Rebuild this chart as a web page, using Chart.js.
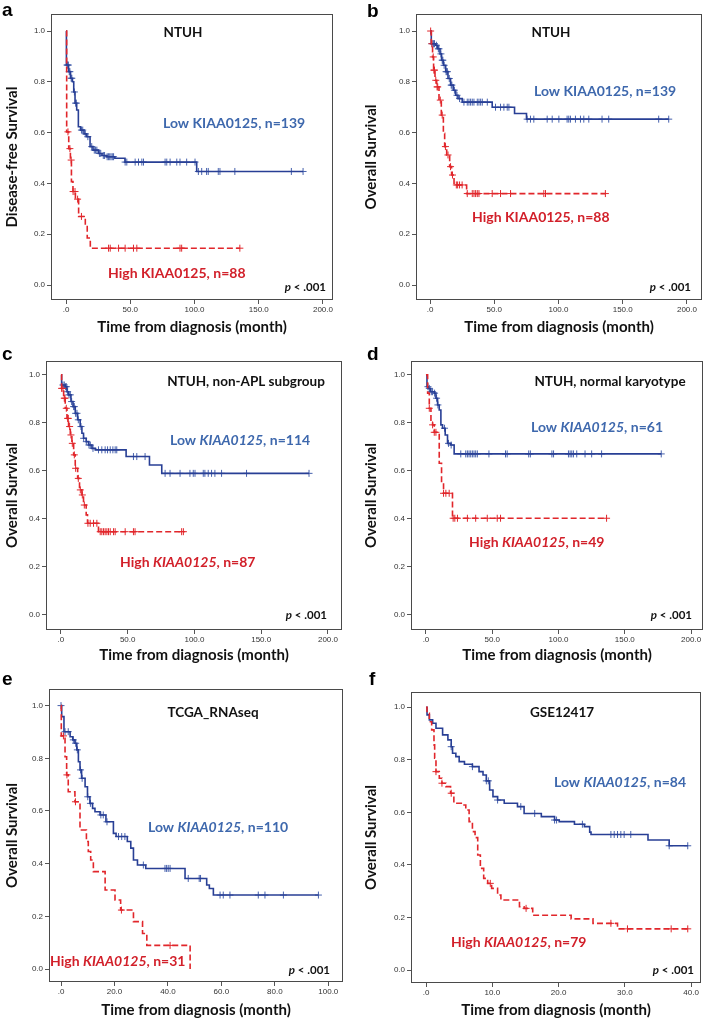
<!DOCTYPE html>
<html>
<head>
<meta charset="utf-8">
<script src="https://cdn.jsdelivr.net/npm/chart.js@4.4.1/dist/chart.umd.min.js"></script>
<style>
  html, body { margin: 0; padding: 0; background: #fff; }
  #wrap { position: relative; width: 708px; height: 1019px; overflow: hidden; }
  canvas { position: absolute; }
  .letter { position: absolute; font: bold 19px "Liberation Sans", Arial, sans-serif; color: #000; line-height: 1; }
</style>
</head>
<body>
<div id="wrap"></div>
<script>
// ---- data: step curves (time, survival) and censor times ----
var yTicks = [0, 0.2, 0.4, 0.6, 0.8, 1.0];
var xTicks200 = [0, 50, 100, 150, 200];
var xTicks100 = [0, 20, 40, 60, 80, 100];
var xTicks40 = [0, 10, 20, 30, 40];

// a - NTUH DFS
var aLowT = [0, 0.3, 2, 3.5, 5, 6, 7, 8.3, 9.6, 11.3, 14, 16.1, 18.7, 21, 25.2, 28, 31.7, 38, 45.9, 101.7, 184.5];
var aLowS = [1, 0.866, 0.84, 0.814, 0.80, 0.76, 0.716, 0.689, 0.623, 0.61, 0.595, 0.584, 0.545, 0.531, 0.518, 0.51, 0.505, 0.499, 0.484, 0.447, 0.447];
var aLowC = [0.8, 1.2, 1.8, 2.5, 3, 4, 4.5, 6.5, 7.5, 8, 12, 13, 15, 17, 20, 22, 23, 24, 26, 27, 29, 30, 32, 33, 34, 35, 36, 37, 46, 47.3, 53.8, 56.4, 59, 60.3, 77.1, 78.4, 81, 86.2, 88.7, 93.9, 100.4, 103, 105.6, 109.4, 110.7, 118.5, 119.8, 131.4, 175.4, 184.5];
var aHighT = [0, 0.5, 2.1, 3.4, 4.2, 5.4, 7.3, 9.8, 15, 16.5, 18.9, 135.3];
var aHighS = [1, 0.603, 0.537, 0.492, 0.407, 0.368, 0.338, 0.27, 0.23, 0.185, 0.145, 0.145];
var aHighC = [1.5, 3, 4, 5.5, 7, 9, 12, 33.1, 34.4, 40.9, 46, 52.5, 55.1, 88.7, 90, 135.3];

// b - NTUH OS
var bLowT = [0, 1, 4.4, 6, 7.8, 9, 10.4, 12.2, 14, 16, 18.1, 20, 21.8, 25.1, 48.4, 65.8, 75.1, 185.8];
var bLowS = [1, 0.95, 0.944, 0.93, 0.91, 0.885, 0.865, 0.84, 0.813, 0.787, 0.767, 0.747, 0.734, 0.72, 0.70, 0.675, 0.653, 0.653];
var bLowC = [1.5, 2.5, 3, 3.5, 5, 6.5, 7, 8.5, 9.5, 10, 11, 12.5, 13, 13.5, 15, 16.5, 17, 19, 21, 23, 26.4, 29, 30.3, 31.6, 32.9, 34.2, 36.8, 38.1, 39.4, 40.7, 44.6, 51, 54.9, 57.5, 60.1, 61.4, 75.6, 78.2, 80.8, 91.2, 95.1, 100.3, 106.7, 108, 109.3, 113.2, 117.1, 119.7, 123.6, 133.9, 139.1, 178, 185.8];
var bHighT = [0, 1, 2, 2.8, 3.9, 5.2, 7, 8.8, 10.4, 11.4, 13, 15.3, 16.8, 18.7, 19.5, 28.5, 136.5];
var bHighS = [1, 0.95, 0.898, 0.846, 0.806, 0.78, 0.728, 0.669, 0.597, 0.545, 0.512, 0.466, 0.433, 0.401, 0.394, 0.36, 0.36];
var bHighC = [0.5, 1.5, 2.5, 3, 3.5, 4.5, 5.5, 6, 8, 9.5, 12, 14, 16, 17.5, 20.5, 21.5, 23, 25, 29, 32.9, 34.2, 35.5, 36.8, 38.1, 48.4, 54.9, 62.7, 88.6, 89.9, 136.5];

// c - non-APL subgroup
var cLowT = [0, 0.5, 3.2, 4.5, 5.7, 7.5, 9, 10.7, 12.5, 14.4, 15.7, 16.9, 18.9, 20.7, 23.2, 25.7, 48.8, 66.3, 75.5, 185.8];
var cLowS = [1, 0.958, 0.951, 0.93, 0.917, 0.889, 0.868, 0.84, 0.813, 0.785, 0.757, 0.736, 0.722, 0.708, 0.694, 0.688, 0.66, 0.625, 0.59, 0.59];
var cLowC = [1.5, 2.5, 3.5, 4, 5, 6, 7, 8, 9.5, 10, 11, 12, 13, 15, 17, 19, 21, 22, 24, 28.1, 30.6, 33.1, 34.9, 36.9, 38.9, 40.6, 41.8, 54.3, 56.8, 63, 78, 81.7, 89.2, 96.6, 99.1, 100.4, 106.6, 107.8, 110.3, 112.8, 115.3, 120.3, 139, 185.8];
var cHighT = [0, 0.5, 2, 3.2, 4.5, 5.7, 7, 8.2, 9.5, 10.7, 12.5, 13.9, 15.7, 16.9, 18.9, 19.9, 28.1, 92.4];
var cHighS = [1, 0.944, 0.903, 0.861, 0.819, 0.785, 0.75, 0.715, 0.667, 0.611, 0.569, 0.521, 0.5, 0.458, 0.417, 0.382, 0.347, 0.347];
var cHighC = [0.5, 1.5, 2.5, 3, 4, 5, 5.5, 6.5, 7.5, 8.5, 10, 11, 13, 14.5, 16, 17.5, 20.2, 21.9, 24.4, 26.9, 29.4, 30.6, 31.9, 33.1, 34.4, 35.6, 36.9, 39.4, 40.6, 48.1, 54.3, 55.5, 90.4, 91.7];

// d - normal karyotype
var dLowT = [0, 0.75, 1.75, 3.25, 6.25, 7.5, 8.75, 10, 11.25, 12.5, 14.5, 16.25, 18.75, 21.25, 177.5];
var dLowS = [1, 0.951, 0.944, 0.93, 0.924, 0.903, 0.875, 0.854, 0.792, 0.778, 0.75, 0.715, 0.708, 0.671, 0.671];
var dLowC = [1.5, 2.5, 4, 5, 6.5, 8, 9, 14, 17, 19, 26.25, 30, 31.25, 32.5, 33.75, 35, 36.25, 37.5, 38.75, 47.5, 60, 61.25, 77.5, 78.75, 95, 96.25, 107.5, 108.75, 110, 111.25, 113.75, 120, 125, 132.5, 177.5];
var dHighT = [0, 1.25, 2.5, 3.75, 5, 6.25, 10, 11.75, 13.25, 20, 136.25];
var dHighS = [1, 0.924, 0.861, 0.806, 0.792, 0.761, 0.632, 0.549, 0.507, 0.403, 0.403];
var dHighC = [2.5, 5, 6.25, 7.5, 13.25, 15, 17.5, 20.5, 21.75, 23.75, 31.25, 37.5, 46.25, 53.75, 56.25, 136.25];

// e - TCGA_RNAseq
var eLowT = [0, 0.25, 1.1, 3.4, 4.4, 5.2, 5.9, 6.5, 7.1, 7.7, 9, 9.9, 10.8, 11.8, 12.7, 14.6, 16.8, 19.6, 20.6, 24.8, 26.1, 27.1, 28.6, 31.7, 46.4, 54.5, 55.5, 57, 96.3];
var eLowS = [1, 0.958, 0.901, 0.882, 0.87, 0.857, 0.832, 0.787, 0.756, 0.724, 0.692, 0.654, 0.629, 0.61, 0.597, 0.585, 0.559, 0.515, 0.503, 0.484, 0.459, 0.414, 0.395, 0.382, 0.344, 0.319, 0.306, 0.281, 0.281];
var eLowC = [0, 1.5, 2.7, 4.6, 5.5, 6.1, 7.3, 7.9, 10, 11, 14.9, 15.8, 17.2, 21.5, 22.7, 23.9, 30.8, 38.9, 39.5, 40.1, 40.8, 47.6, 51.7, 52.2, 59.5, 60.7, 63.2, 73.8, 76.3, 83.2, 96.3];
var eHighT = [0, 0.1, 1.5, 2.1, 2.7, 5.2, 7.1, 9.5, 10.2, 11.1, 12.1, 16.5, 20.2, 22.3, 27.1, 30.5, 32.1, 48.3];
var eHighS = [1, 0.885, 0.806, 0.737, 0.673, 0.635, 0.528, 0.484, 0.446, 0.414, 0.37, 0.3, 0.262, 0.224, 0.18, 0.135, 0.09, 0];
var eHighC = [0.9, 2.2, 5.4, 22.6, 40.8];

// f - GSE12417
var fLowT = [0, 0.15, 0.5, 1, 1.5, 2.5, 3.3, 3.8, 4, 4.5, 5, 5.8, 7, 8, 8.6, 9.1, 9.6, 10.1, 10.8, 11.8, 13.8, 14.8, 17.4, 19.4, 20.1, 22.4, 23.9, 24.7, 24.9, 33.5, 36.7, 39.5];
var fLowS = [1, 0.971, 0.952, 0.939, 0.92, 0.895, 0.876, 0.85, 0.825, 0.812, 0.793, 0.783, 0.774, 0.755, 0.742, 0.72, 0.685, 0.66, 0.647, 0.635, 0.622, 0.596, 0.584, 0.571, 0.565, 0.555, 0.546, 0.525, 0.516, 0.495, 0.473, 0.473];
var fLowC = [3.8, 7, 9.1, 9.4, 10.8, 14.3, 16.4, 19.4, 19.7, 23.6, 27.9, 28.4, 28.9, 29.4, 29.9, 30.9, 36.7, 39.5];
var fHighT = [0, 0.15, 0.5, 0.85, 1.2, 1.3, 1.5, 2, 2.4, 3, 3.7, 4.2, 5.5, 6, 6.5, 7, 7.4, 7.8, 8.2, 8.7, 9.3, 9.9, 10.8, 11.3, 14.1, 14.8, 16.1, 21.9, 25.2, 28.9, 39.5];
var fHighS = [1, 0.977, 0.945, 0.914, 0.857, 0.806, 0.755, 0.73, 0.711, 0.698, 0.673, 0.635, 0.628, 0.609, 0.565, 0.527, 0.504, 0.438, 0.387, 0.349, 0.33, 0.311, 0.286, 0.267, 0.241, 0.235, 0.209, 0.195, 0.178, 0.157, 0.157];
var fHighC = [1.5, 2.4, 3.8, 9.7, 15.1, 27.9, 30.4, 37, 39.5];

// ---- styling ----
var BLUE = '#283f95', BLUE_TXT = '#3e68ad', BLUE_MARK = '#4661ad';
var RED = '#e1262b', RED_TXT = '#d2202a';
var TXT_FONT = 'Lato, "Open Sans", sans-serif';

function pts(T, S) {
	return T.map((t, i) => ({x: t, y: S[i]}));
}

// censor mark sits on the curve value at that time
function censorPts(C, T, S) {
	return C.map(c => {
		let i = 0;
		while (i + 1 < T.length && T[i + 1] <= c) i++;
		return {x: c, y: S[i]};
	});
}

var panels = [
	{letter: 'a', lx: 2, ly: 0, cv: {x: 0, y: 0, w: 354, h: 336}, box: {l: 51, t: 14, r: 333, b: 300},
	 xr: [-11.7, 207.8], yr: [-0.059, 1.067], xt: xTicks200, yTitle: 'Disease-free Survival', yTitleX: 12, xTitleY: 327,
	 low: [aLowT, aLowS, aLowC], high: [aHighT, aHighS, aHighC], italic: false, gene: 'KIAA0125', nLow: 139, nHigh: 88,
	 title: 'NTUH', titlePos: [183, 33], lowPos: [163, 123], highPos: [108, 273], pPos: [326, 287]},
	{letter: 'b', lx: 367, ly: 1, cv: {x: 354, y: 0, w: 354, h: 336}, box: {l: 416, t: 14, r: 702, b: 300},
	 xr: [-10.9, 211.7], yr: [-0.059, 1.067], xt: xTicks200, yTitle: 'Overall Survival', yTitleX: 371, xTitleY: 327,
	 low: [bLowT, bLowS, bLowC], high: [bHighT, bHighS, bHighC], italic: false, gene: 'KIAA0125', nLow: 139, nHigh: 88,
	 title: 'NTUH', titlePos: [551, 33], lowPos: [534, 91], highPos: [472, 217], pPos: [691, 287]},
	{letter: 'c', lx: 2, ly: 344, cv: {x: 0, y: 336, w: 354, h: 339}, box: {l: 46, t: 361, r: 342, b: 630},
	 xr: [-11.2, 210.5], yr: [-0.0625, 1.058], xt: xTicks200, yTitle: 'Overall Survival', yTitleX: 12, xTitleY: 655,
	 low: [cLowT, cLowS, cLowC], high: [cHighT, cHighS, cHighC], italic: true, gene: 'KIAA0125', nLow: 114, nHigh: 87,
	 title: 'NTUH, non-APL subgroup', titlePos: [246, 382], lowPos: [170, 440], highPos: [120, 562], pPos: [327, 615]},
	{letter: 'd', lx: 367, ly: 344, cv: {x: 354, y: 336, w: 354, h: 339}, box: {l: 411, t: 361, r: 704, b: 630},
	 xr: [-11.3, 209], yr: [-0.0625, 1.058], xt: xTicks200, yTitle: 'Overall Survival', yTitleX: 371, xTitleY: 655,
	 low: [dLowT, dLowS, dLowC], high: [dHighT, dHighS, dHighC], italic: true, gene: 'KIAA0125', nLow: 61, nHigh: 49,
	 title: 'NTUH, normal karyotype', titlePos: [610, 382], lowPos: [531, 427], highPos: [469, 542], pPos: [692, 615]},
	{letter: 'e', lx: 2, ly: 669, cv: {x: 0, y: 675, w: 354, h: 344}, box: {l: 49, t: 689, r: 343, b: 982},
	 xr: [-4.5, 105.5], yr: [-0.049, 1.063], xt: xTicks100, yTitle: 'Overall Survival', yTitleX: 12, xTitleY: 1010,
	 low: [eLowT, eLowS, eLowC], high: [eHighT, eHighS, eHighC], italic: true, gene: 'KIAA0125', nLow: 110, nHigh: 31,
	 title: 'TCGA_RNAseq', titlePos: [213, 713], lowPos: [148, 827], highPos: [50, 961], pPos: [330, 970]},
	{letter: 'f', lx: 369, ly: 669, cv: {x: 354, y: 675, w: 354, h: 344}, box: {l: 411, t: 692, r: 701, b: 983},
	 xr: [-2.27, 41.5], yr: [-0.049, 1.058], xt: xTicks40, yTitle: 'Overall Survival', yTitleX: 371, xTitleY: 1010,
	 low: [fLowT, fLowS, fLowC], high: [fHighT, fHighS, fHighC], italic: true, gene: 'KIAA0125', nLow: 84, nHigh: 79,
	 title: 'GSE12417', titlePos: [562, 713], lowPos: [554, 782], highPos: [451, 942], pPos: [694, 970]}
];

// draws text made of [string, italic] pieces
function drawRich(ctx, segs, x, y, align, size, color) {
	let widths = segs.map(s => {
		ctx.font = (s[1] ? 'italic ' : '') + 'bold ' + size + 'px ' + TXT_FONT;
		return ctx.measureText(s[0]).width;
	});
	let total = widths.reduce((a, b) => a + b, 0);
	let cx = align === 'center' ? x - total / 2 : (align === 'right' ? x - total : x);
	ctx.fillStyle = color;
	ctx.textBaseline = 'middle';
	ctx.textAlign = 'left';
	segs.forEach((s, i) => {
		ctx.font = (s[1] ? 'italic ' : '') + 'bold ' + size + 'px ' + TXT_FONT;
		ctx.fillText(s[0], cx, y);
		cx += widths[i];
	});
}

var kmPlugin = {
	id: 'kmText',
	beforeDatasetsDraw(chart) {
		const a = chart.chartArea, ctx = chart.ctx;
		ctx.save();
		ctx.strokeStyle = '#4a4a4a';
		ctx.lineWidth = 1;
		ctx.strokeRect(a.left + 0.5, a.top + 0.5, a.right - a.left - 1, a.bottom - a.top - 1);
		ctx.restore();
	},
	afterDraw(chart) {
		const p = chart.config.options.plugins.kmText, ctx = chart.ctx;
		const ox = p.cv.x, oy = p.cv.y;
		ctx.save();
		drawRich(ctx, [[p.title, false]], p.titlePos[0] - ox, p.titlePos[1] - oy, 'center', 13.5, '#111');
		let lowSegs = [['Low ', false], [p.gene, p.italic], [', n=' + p.nLow, false]];
		let highSegs = [['High ', false], [p.gene, p.italic], [', n=' + p.nHigh, false]];
		drawRich(ctx, lowSegs, p.lowPos[0] - ox, p.lowPos[1] - oy, 'left', 14, BLUE_TXT);
		drawRich(ctx, highSegs, p.highPos[0] - ox, p.highPos[1] - oy, 'left', 14, RED_TXT);
		drawRich(ctx, [['p', true], [' < .001', false]], p.pPos[0] - ox, p.pPos[1] - oy, 'right', 11.5, '#111');
		ctx.restore();
	}
};

var wrap = document.getElementById('wrap');

panels.forEach(p => {
	let lt = document.createElement('div');
	lt.className = 'letter';
	lt.style.left = p.lx + 'px';
	lt.style.top = p.ly + 'px';
	lt.textContent = p.letter;

	let cv = document.createElement('canvas');
	cv.width = p.cv.w;
	cv.height = p.cv.h;
	cv.style.left = p.cv.x + 'px';
	cv.style.top = p.cv.y + 'px';
	wrap.appendChild(cv);
	wrap.appendChild(lt);

	const yAxisW = p.box.l - p.cv.x;
	const xAxisH = (p.cv.y + p.cv.h) - p.box.b;
	const titleLH = 18;

	new Chart(cv.getContext('2d'), {
		type: 'scatter',
		data: {
			datasets: [
				{data: pts(p.high[0], p.high[1]), showLine: true, stepped: true, borderColor: RED, borderWidth: 1.6,
				 borderDash: [6, 3], pointRadius: 0, fill: false},
				{data: pts(p.low[0], p.low[1]), showLine: true, stepped: true, borderColor: BLUE, borderWidth: 1.6,
				 pointRadius: 0, fill: false},
				{data: censorPts(p.high[2], p.high[0], p.high[1]), showLine: false, pointStyle: 'cross',
				 pointRadius: 3.5, borderColor: RED, borderWidth: 1},
				{data: censorPts(p.low[2], p.low[0], p.low[1]), showLine: false, pointStyle: 'cross',
				 pointRadius: 3.5, borderColor: BLUE_MARK, borderWidth: 1}
			]
		},
		options: {
			responsive: false,
			animation: false,
			devicePixelRatio: 1,
			layout: {padding: {top: p.box.t - p.cv.y, right: (p.cv.x + p.cv.w) - p.box.r, left: 0, bottom: 0}},
			scales: {
				x: {
					type: 'linear', min: p.xr[0], max: p.xr[1],
					afterBuildTicks: s => { s.ticks = p.xt.map(v => ({value: v})); },
					afterFit: s => { s.height = xAxisH; },
					border: {display: false},
					grid: {drawOnChartArea: false, drawTicks: true, tickLength: 4, color: '#555'},
					ticks: {font: {family: '"Liberation Sans", Arial', size: 8}, color: '#333', padding: 1,
						maxRotation: 0, autoSkip: false,
						callback: v => v === 0 ? '.0' : v.toFixed(1)},
					title: {display: true, text: 'Time from diagnosis (month)', color: '#111',
						font: {family: TXT_FONT, size: 15, weight: 'bold'},
						padding: {top: 0, bottom: (p.cv.y + p.cv.h) - p.xTitleY - titleLH / 2}}
				},
				y: {
					min: p.yr[0], max: p.yr[1],
					afterBuildTicks: s => { s.ticks = yTicks.map(v => ({value: v})); },
					afterFit: s => { s.width = yAxisW; },
					border: {display: false},
					grid: {drawOnChartArea: false, drawTicks: true, tickLength: 4, color: '#555'},
					ticks: {font: {family: '"Liberation Sans", Arial', size: 8}, color: '#333', padding: 2,
						callback: v => v.toFixed(1)},
					title: {display: true, text: p.yTitle, color: '#111',
						font: {family: TXT_FONT, size: 15, weight: 'bold'},
						padding: {top: p.yTitleX - p.cv.x - titleLH / 2, bottom: 0}}
				}
			},
			plugins: {
				legend: {display: false},
				tooltip: {enabled: false},
				kmText: p
			}
		},
		plugins: [kmPlugin]
	});
});
</script>
</body>
</html>
